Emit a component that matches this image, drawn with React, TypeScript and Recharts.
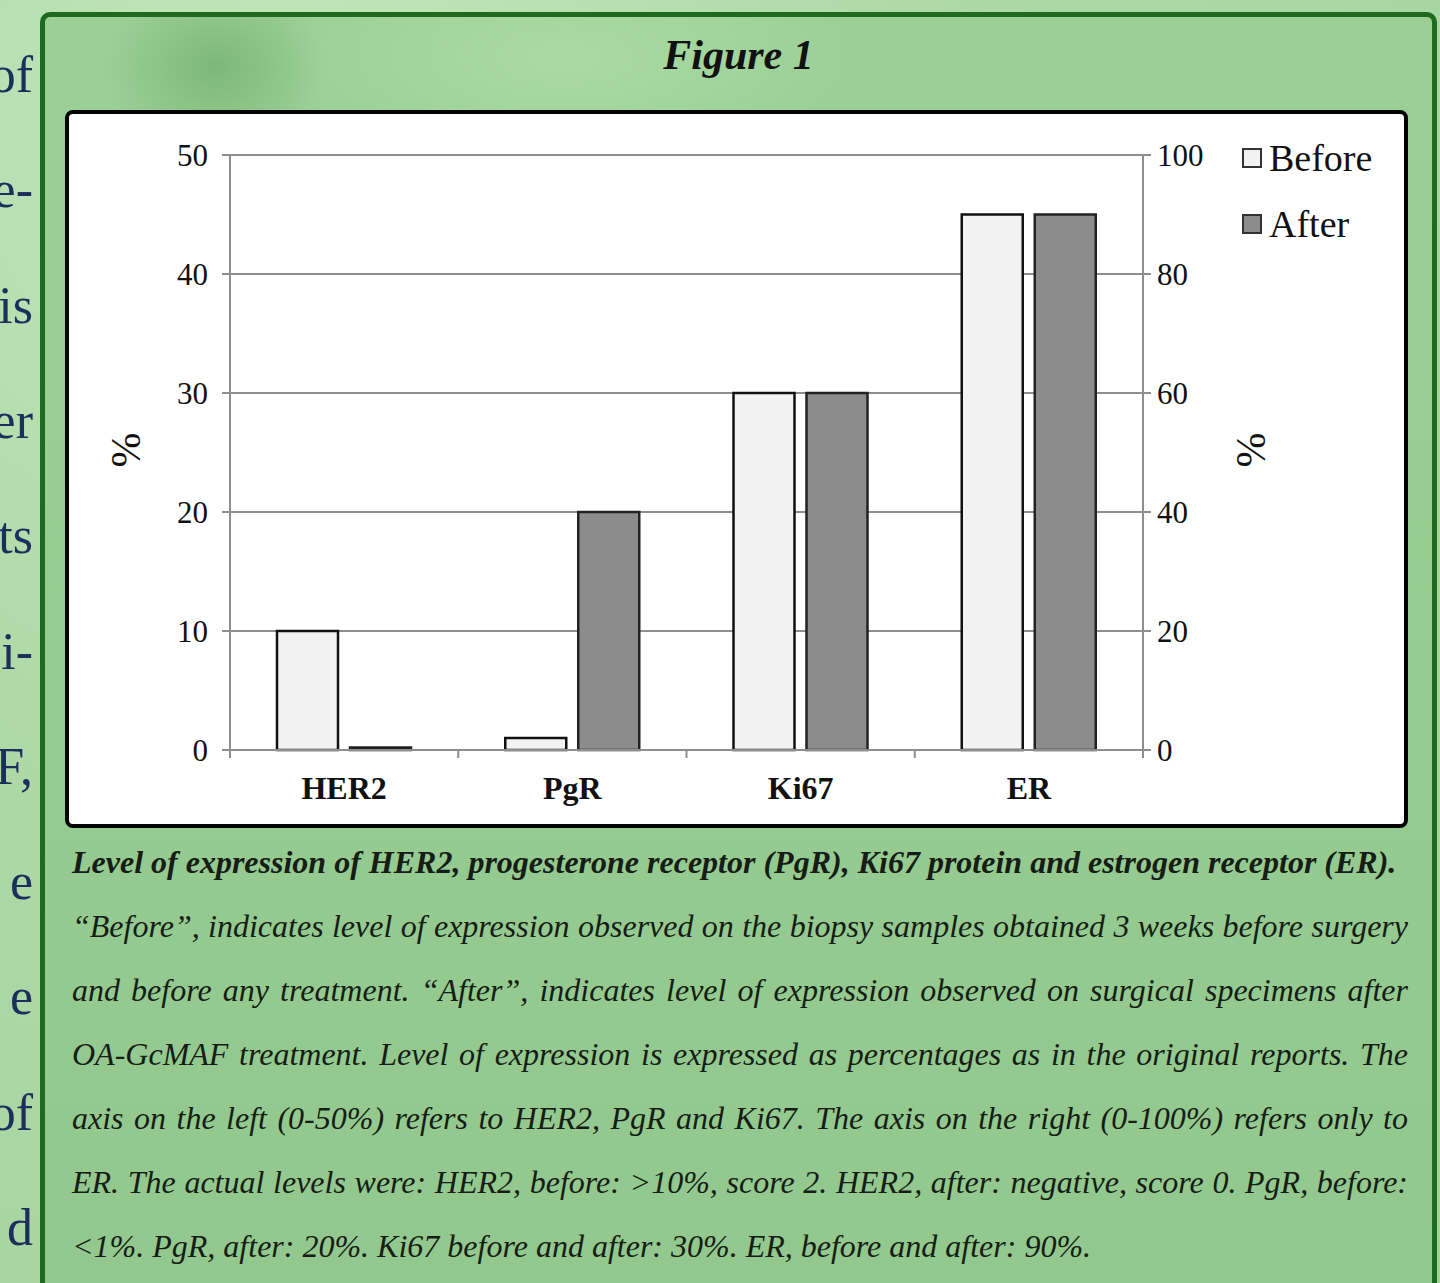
import React from "react";
import {
  BarChart,
  Bar,
  XAxis,
  YAxis,
  CartesianGrid,
  Legend,
} from "recharts";

// values
const categories = ["HER2", "PgR", "Ki67", "ER"];
const beforeValues = [10, 1, 30, 90];
const afterValues = [0.2, 20, 30, 90];
// HER2, PgR and Ki67 use the left axis (0-50%), ER the right one (0-100%)
const axisSide = ["left", "left", "left", "right"];
const leftTicks = [0, 10, 20, 30, 40, 50];
const rightTicks = [0, 20, 40, 60, 80, 100];

const chartData = categories.map((name, i) => ({
  name,
  beforeLeft: axisSide[i] === "left" ? beforeValues[i] : null,
  beforeRight: axisSide[i] === "right" ? beforeValues[i] : null,
  afterLeft: axisSide[i] === "left" ? afterValues[i] : null,
  afterRight: axisSide[i] === "right" ? afterValues[i] : null,
}));

const sideWords = ["of", "e-", "is", "er", "ts", "i-", "F,", "e", "e", "of", "d"];

const captionLines = [
  "\u201CBefore\u201D, indicates level of expression observed on the biopsy samples obtained 3 weeks before surgery",
  "and before any treatment. \u201CAfter\u201D, indicates level of expression observed on surgical specimens after",
  "OA-GcMAF treatment. Level of expression is expressed as percentages as in the original reports. The",
  "axis on the left (0-50%) refers to HER2, PgR and Ki67. The axis on the right (0-100%) refers only to",
  "ER. The actual levels were: HER2, before: >10%, score 2. HER2, after: negative, score 0. PgR, before:",
];
const captionLast = "<1%. PgR, after: 20%. Ki67 before and after: 30%. ER, before and after: 90%.";

const BEFORE_FILL = "#f2f2f2";
const AFTER_FILL = "#8c8c8c";
const GRID = "#8e8e8e";
const serif = "'Liberation Serif', 'DejaVu Serif', serif";

// category name plus the small tick marks on the category borders
function CategoryTick(props: any) {
  const { x, y, payload, index, visibleTicksCount, width } = props;
  const half =
    payload && payload.offset ? payload.offset : width / visibleTicksCount / 2;
  const isLast = index === visibleTicksCount - 1;
  return (
    <g>
      <line x1={x - half} x2={x - half} y1={y} y2={y + 8} stroke={GRID} strokeWidth={2} />
      {isLast && (
        <line x1={x + half} x2={x + half} y1={y} y2={y + 8} stroke={GRID} strokeWidth={2} />
      )}
      <text
        x={x}
        y={y + 49}
        textAnchor="middle"
        fontSize={32}
        fontWeight="bold"
        fill="#111"
        fontFamily={serif}
      >
        {payload.value}
      </text>
    </g>
  );
}

function LegendBox() {
  const items = [
    { label: "Before", fill: BEFORE_FILL },
    { label: "After", fill: AFTER_FILL },
  ];
  return (
    <div style={{ fontFamily: serif, color: "#111" }}>
      {items.map((it) => (
        <div
          key={it.label}
          style={{ display: "flex", alignItems: "center", height: 66, fontSize: 38 }}
        >
          <span
            style={{
              display: "inline-block",
              width: 16,
              height: 16,
              border: "2px solid #333",
              background: it.fill,
              marginRight: 7,
            }}
          />
          {it.label}
        </div>
      ))}
    </div>
  );
}

export default function App() {
  const tickStyle = { fontSize: 31, fill: "#111", fontFamily: serif };
  return (
    <div
      style={{
        position: "absolute",
        left: 0,
        top: 0,
        width: 1440,
        height: 1283,
        overflow: "hidden",
        background:
          "radial-gradient(ellipse at 20% 10%, #c2e6bb 0%, #aed9a7 40%, #a3d39c 100%)",
        fontFamily: serif,
      }}
    >
      {sideWords.map((w, i) => (
        <div
          key={i}
          style={{
            position: "absolute",
            right: 1440 - 33,
            top: 45 + i * 115.3,
            fontSize: 52,
            lineHeight: "60px",
            color: "#1c2f5c",
            whiteSpace: "nowrap",
          }}
        >
          {w}
        </div>
      ))}

      <div
        style={{
          position: "absolute",
          left: 40,
          top: 12,
          width: 1397,
          height: 1320,
          boxSizing: "border-box",
          border: "5px solid #1f6a1f",
          borderRadius: "10px 10px 0 0",
          background:
            "radial-gradient(ellipse 110px 90px at 170px 50px, #7db879 0%, rgba(125,184,121,0) 100%), " +
            "radial-gradient(ellipse 300px 120px at 520px 40px, #a9dba3 0%, rgba(169,219,163,0) 100%), " +
            "linear-gradient(180deg, #9ccf96 0%, #95cb90 60%, #92c88d 100%)",
        }}
      />

      <div
        style={{
          position: "absolute",
          left: 40,
          width: 1397,
          top: 29,
          textAlign: "center",
          fontSize: 42,
          fontWeight: "bold",
          fontStyle: "italic",
          color: "#111",
          lineHeight: "52px",
        }}
      >
        Figure 1
      </div>

      <div
        style={{
          position: "absolute",
          left: 65,
          top: 110,
          width: 1343,
          height: 718,
          boxSizing: "border-box",
          border: "4px solid #000",
          borderRadius: 8,
          background: "#fff",
        }}
      >
        <BarChart
          width={1335}
          height={710}
          data={chartData}
          margin={{ top: 41, right: 31, bottom: 0, left: 81 }}
          barCategoryGap={47}
          barGap={12}
          style={{ fontFamily: serif }}
        >
          <CartesianGrid
            xAxisId="cat"
            yAxisId="left"
            vertical={false}
            stroke={GRID}
            strokeWidth={2}
          />
          <XAxis
            xAxisId="cat"
            dataKey="name"
            height={74}
            tickLine={false}
            tickSize={0}
            tickMargin={0}
            interval={0}
            tick={<CategoryTick />}
            stroke={GRID}
            strokeWidth={2}
          />
          <YAxis
            yAxisId="left"
            domain={[0, 50]}
            ticks={leftTicks}
            width={80}
            tickSize={8}
            tickMargin={14}
            stroke={GRID}
            strokeWidth={2}
            tick={tickStyle}
            label={{
              value: "%",
              angle: -90,
              position: "insideLeft",
              offset: -25,
              dy: 15,
              style: { fontSize: 42, fill: "#111", fontFamily: serif },
            }}
          />
          <YAxis
            yAxisId="right"
            orientation="right"
            domain={[0, 100]}
            ticks={rightTicks}
            width={80}
            tickSize={8}
            tickMargin={6}
            stroke={GRID}
            strokeWidth={2}
            tick={tickStyle}
            label={{
              value: "%",
              angle: -90,
              position: "right",
              offset: 27,
              dy: 15,
              style: { fontSize: 42, fill: "#111", fontFamily: serif },
            }}
          />
          <Legend
            layout="vertical"
            align="right"
            verticalAlign="top"
            width={150}
            content={() => <LegendBox />}
            wrapperStyle={{ left: 1173, top: 11 }}
          />
          <Bar
            xAxisId="cat"
            yAxisId="left"
            dataKey="beforeLeft"
            stackId="before"
            fill={BEFORE_FILL}
            stroke="#111"
            strokeWidth={2.5}
            isAnimationActive={false}
          />
          <Bar
            xAxisId="cat"
            yAxisId="right"
            dataKey="beforeRight"
            stackId="before"
            fill={BEFORE_FILL}
            stroke="#111"
            strokeWidth={2.5}
            isAnimationActive={false}
          />
          <Bar
            xAxisId="cat"
            yAxisId="left"
            dataKey="afterLeft"
            stackId="after"
            fill={AFTER_FILL}
            stroke="#222"
            strokeWidth={2.5}
            isAnimationActive={false}
          />
          <Bar
            xAxisId="cat"
            yAxisId="right"
            dataKey="afterRight"
            stackId="after"
            fill={AFTER_FILL}
            stroke="#222"
            strokeWidth={2.5}
            isAnimationActive={false}
          />
        </BarChart>
      </div>

      <div
        style={{
          position: "absolute",
          left: 72,
          top: 830,
          width: 1336,
          fontStyle: "italic",
          color: "#161d16",
          fontSize: 32,
          lineHeight: "64px",
        }}
      >
        <div style={{ fontWeight: "bold", whiteSpace: "nowrap" }}>
          Level of expression of HER2, progesterone receptor (PgR), Ki67 protein and estrogen receptor (ER).
        </div>
        {captionLines.map((line, i) => (
          <div
            key={i}
            style={{ textAlign: "justify", textAlignLast: "justify", whiteSpace: "nowrap" }}
          >
            {line}
          </div>
        ))}
        <div style={{ whiteSpace: "nowrap" }}>{captionLast}</div>
      </div>
    </div>
  );
}
